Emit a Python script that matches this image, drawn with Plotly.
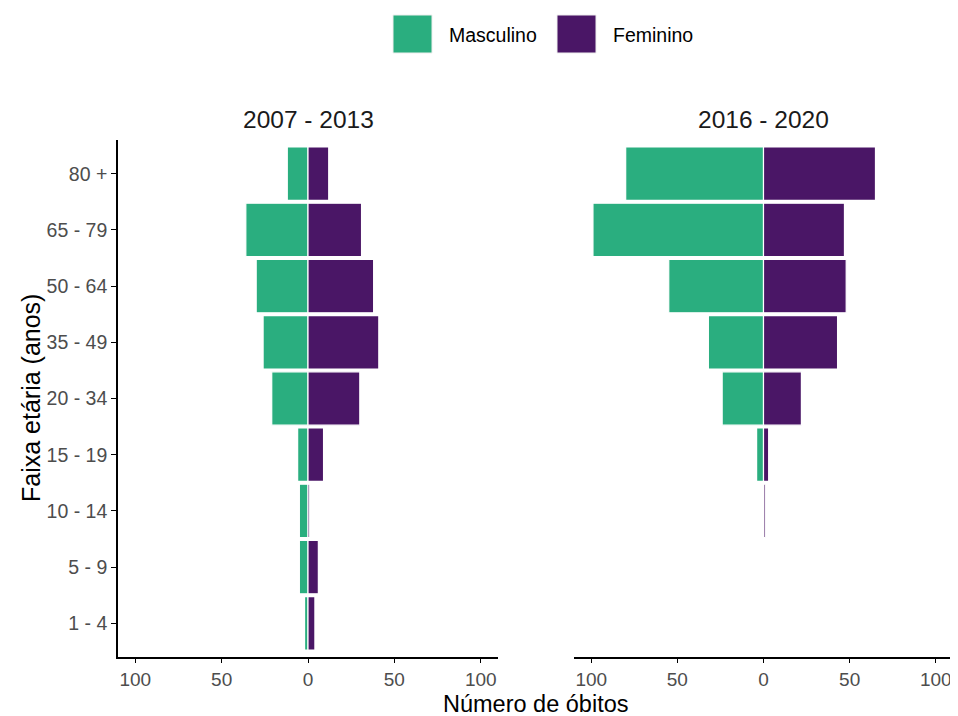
import plotly.graph_objects as go

categories = ["1 - 4", "5 - 9", "10 - 14", "15 - 19", "20 - 34", "35 - 49", "50 - 64", "65 - 79", "80 +"]

masc_2007_2013 = [2, 5, 5, 6, 21, 26, 30, 36, 12]
fem_2007_2013 = [4, 6, 1, 9, 30, 41, 38, 31, 12]

masc_2016_2020 = [0, 0, 0, 4, 24, 32, 55, 99, 80]
fem_2016_2020 = [0, 0, 1, 3, 22, 43, 48, 47, 65]

panel_titles = ["2007 - 2013", "2016 - 2020"]
x_tickvals = [-100, -50, 0, 50, 100]
x_ticktext = ["100", "50", "0", "50", "100"]

GREEN = "#2AAE7F"
PURPLE = "#4A1666"
FONT = "Liberation Sans, Arial, sans-serif"

fig = go.Figure()

panels = [
    (masc_2007_2013, fem_2007_2013, "x", "y"),
    (masc_2016_2020, fem_2016_2020, "x2", "y2"),
]
for masc, fem, xa, ya in panels:
    fig.add_trace(go.Bar(
        y=categories, x=[-v for v in masc], orientation="h", name="Masculino",
        marker=dict(color=GREEN, line=dict(color="white", width=1.2)),
        width=0.95, xaxis=xa, yaxis=ya, showlegend=False,
        customdata=masc, hovertemplate="%{y}: %{customdata}<extra>Masculino</extra>",
    ))
    fig.add_trace(go.Bar(
        y=categories, x=fem, orientation="h", name="Feminino",
        marker=dict(color=PURPLE, line=dict(color="white", width=1.2)),
        width=0.95, xaxis=xa, yaxis=ya, showlegend=False,
        hovertemplate="%{y}: %{x}<extra>Feminino</extra>",
    ))

# page has an 8px body margin; work in screen pixels and convert
OFF = 8
W, H = 950, 708
L, R, T, B = 118 - OFF, 5, 140 - OFF, H - (657 - OFF)
pw = W - L - R
ph = H - T - B

def px_x(p):
    return (p - OFF - L) / pw

def px_y(p):
    return (H - B - (p - OFF)) / ph

xaxis_common = dict(
    range=[-110, 110], tickvals=x_tickvals, ticktext=x_ticktext,
    showline=True, linecolor="black", linewidth=1.6,
    ticks="outside", ticklen=4, tickwidth=1.3, tickcolor="black",
    showgrid=False, zeroline=False,
    tickfont=dict(family=FONT, size=19, color="#4D4D4D"),
    fixedrange=True,
)

fig.update_layout(
    width=W, height=H,
    margin=dict(l=L, r=R, t=T, b=B),
    paper_bgcolor="white", plot_bgcolor="white",
    barmode="relative", bargap=0.05,
    font=dict(family=FONT),
    showlegend=False,
    xaxis=dict(domain=[0, px_x(498)], anchor="y", **xaxis_common),
    xaxis2=dict(domain=[px_x(574), 1], anchor="y2", **xaxis_common),
    yaxis=dict(
        domain=[0, 1], anchor="x", type="category",
        categoryorder="array", categoryarray=categories,
        range=[-0.6, 8.6],
        showline=True, linecolor="black", linewidth=1.6,
        ticks="outside", ticklen=5, tickwidth=1.3, tickcolor="black",
        showgrid=False, zeroline=False,
        tickfont=dict(family=FONT, size=19.5, color="#4D4D4D"),
    ),
    yaxis2=dict(
        domain=[0, 1], anchor="x2", type="category",
        categoryorder="array", categoryarray=categories,
        range=[-0.6, 8.6], matches="y",
        showline=False, showticklabels=False, ticks="",
        showgrid=False, zeroline=False,
    ),
)

annotations = [
    dict(text=panel_titles[0], x=(px_x(118) + px_x(498)) / 2, y=px_y(119), xref="paper", yref="paper",
         showarrow=False, xanchor="center", yanchor="middle",
         font=dict(family=FONT, size=24.5, color="#1A1A1A")),
    dict(text=panel_titles[1], x=(px_x(574) + px_x(953)) / 2, y=px_y(119), xref="paper", yref="paper",
         showarrow=False, xanchor="center", yanchor="middle",
         font=dict(family=FONT, size=24.5, color="#1A1A1A")),
    dict(text="Número de óbitos", x=px_x(536), y=px_y(703.5), xref="paper", yref="paper",
         showarrow=False, xanchor="center", yanchor="middle",
         font=dict(family=FONT, size=23.5, color="black")),
    dict(text="Faixa etária (anos)", x=px_x(31), y=px_y(398), xref="paper", yref="paper",
         showarrow=False, xanchor="center", yanchor="middle", textangle=-90,
         font=dict(family=FONT, size=25, color="black")),
    dict(text="Masculino", x=px_x(447), y=px_y(35), xref="paper", yref="paper",
         showarrow=False, xanchor="left", yanchor="middle",
         font=dict(family=FONT, size=19.5, color="black")),
    dict(text="Feminino", x=px_x(611), y=px_y(35), xref="paper", yref="paper",
         showarrow=False, xanchor="left", yanchor="middle",
         font=dict(family=FONT, size=19.5, color="black")),
]
fig.update_layout(annotations=annotations)

shapes = [
    dict(type="rect", xref="paper", yref="paper", x0=px_x(393), x1=px_x(432), y0=px_y(53), y1=px_y(15),
         fillcolor=GREEN, line=dict(color="#EEEEEE", width=1)),
    dict(type="rect", xref="paper", yref="paper", x0=px_x(557), x1=px_x(596), y0=px_y(53), y1=px_y(15),
         fillcolor=PURPLE, line=dict(color="#EEEEEE", width=1)),
]
fig.update_layout(shapes=shapes)

fig.write_html("out.html")
